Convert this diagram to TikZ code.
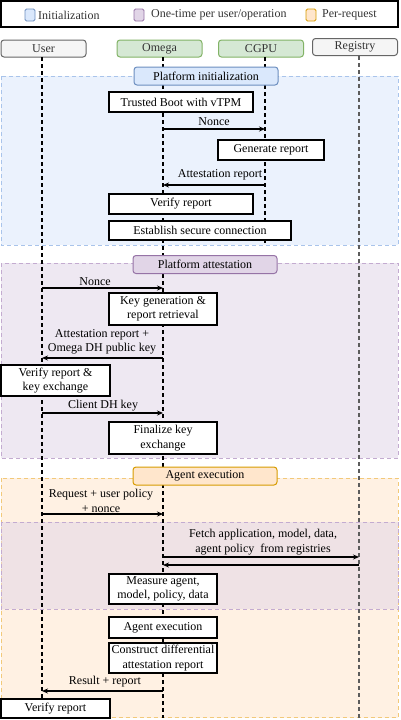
\documentclass[tikz,border=0pt]{standalone}
\usepackage{fontspec}
\setmainfont{Liberation Serif}
\usetikzlibrary{arrows.meta}
\definecolor{bluefill}{HTML}{DAE8FC}
\definecolor{bluedraw}{HTML}{6C8EBF}
\definecolor{bluedash}{HTML}{A9C4EB}
\definecolor{purpfill}{HTML}{E1D5E7}
\definecolor{purpdraw}{HTML}{9673A6}
\definecolor{purpdash}{HTML}{C3ABD0}
\definecolor{orfill}{HTML}{FFE6CC}
\definecolor{ordraw}{HTML}{D79B00}
\definecolor{ordash}{HTML}{F2C97A}
\definecolor{greyfill}{HTML}{F5F5F5}
\definecolor{greydraw}{HTML}{666666}
\definecolor{greentfill}{HTML}{D5E8D4}
\definecolor{greendraw}{HTML}{82B366}
\definecolor{txtgrey}{HTML}{333333}
\begin{document}
\begin{tikzpicture}[x=1pt,y=-1pt,
  font=\fontsize{12}{14.5}\selectfont,
  box/.style={draw=black, line width=1.3pt, fill=white, inner sep=0pt, align=center},
  hdr/.style={draw=#1, rounded corners=3pt, line width=1pt, inner sep=0pt, text=txtgrey, minimum width=85pt, minimum height=17pt},
  ttl/.style={rounded corners=3pt, line width=1pt, inner sep=0pt, minimum width=144pt, minimum height=18pt},
  life/.style={line width=1.2pt, dash pattern=on 4pt off 3pt},
  msg/.style={line width=1.1pt, -{Stealth[length=6pt,width=5pt]}},
  lbl/.style={inner sep=0pt, align=center},
  sect/.style={line width=0.8pt, dash pattern=on 4pt off 3pt},
  legsq/.style={rounded corners=1.5pt, line width=0.9pt, minimum width=10pt, minimum height=12pt, inner sep=0pt},
]
\useasboundingbox (0,0) rectangle (400,720);

% legend
\node[draw=black, line width=1.5pt, minimum width=397pt, minimum height=26pt, inner sep=0pt] (legend) at (199.5,14) {};
\node[legsq, draw=bluedraw, fill=bluefill] (lq1) at (30,15) {};
\node[anchor=west, inner sep=0pt, text=txtgrey] (lt1) at (38,15) {Initialization};
\node[legsq, draw=purpdraw, fill=purpfill] (lq2) at (139,15) {};
\node[anchor=west, inner sep=0pt, text=txtgrey] (lt2) at (151,15) {One-time per user/operation};
\node[legsq, draw=ordraw, fill=orfill] (lq3) at (311,15) {};
\node[anchor=west, inner sep=0pt, text=txtgrey] (lt3) at (322,15) {Per-request};

% section backgrounds
\path[sect, fill=bluefill!55, draw=bluedash] (1,76) rectangle (398,245);
\path[sect, fill=purpfill!55, draw=purpdash] (1,263) rectangle (398,458);
\path[sect, fill=orfill!55, draw=ordash] (1,478) rectangle (398,717.5);
\path[sect, fill=purpfill, fill opacity=0.5, draw=purpdash] (1,522) rectangle (398,609);

% headers
\node[hdr=greydraw, fill=greyfill] (user) at (43.5,48.5) {User};
\node[hdr=greendraw, fill=greentfill] (omega) at (159.5,48.5) {Omega};
\node[hdr=greendraw, fill=greentfill] (cgpu) at (261,48.5) {CGPU};
\node[hdr=greydraw, fill=greyfill] (registry) at (355,47) {Registry};

% lifelines
\coordinate (uT) at (42,57);   \coordinate (uB) at (42,718);
\coordinate (oT) at (163,57);  \coordinate (oB) at (163,718);
\coordinate (cT) at (265,57);  \coordinate (cB) at (265,245);
\coordinate (rT) at (359,56);  \coordinate (rB) at (359,718);
\draw[life] (uT) -- (uB);
\draw[life] (oT) -- (oB);
\draw[life] (cT) -- (cB);
\draw[life, draw=greydraw!90!black] (rT) -- (rB);

% section titles
\node[ttl, draw=bluedraw, fill=bluefill] (t1) at (206,76) {Platform initialization};
\node[ttl, draw=purpdraw, fill=purpfill] (t2) at (205,264.5) {Platform attestation};
\node[ttl, draw=ordraw, fill=orfill] (t3) at (205,476) {Agent execution};

% section 1
\node[box, minimum width=144pt, minimum height=20pt] (tb) at (181,102) {Trusted Boot with vTPM};
\draw[msg] (oT |- 0,129) -- (cT |- 0,129);
\node[lbl] (l1) at (214,122) {Nonce};
\node[box, minimum width=106pt, minimum height=20pt] (gen) at (271,150) {Generate report};
\draw[msg] (cT |- 0,185) -- (oT |- 0,185);
\node[lbl] (l2) at (220,175) {Attestation report};
\node[box, minimum width=144pt, minimum height=20pt] (ver1) at (181,204) {Verify report};
\node[box, minimum width=182pt, minimum height=19pt] (est) at (200,230.5) {Establish secure connection};

% section 2
\draw[msg] (uT |- 0,288) -- (oT |- 0,288);
\node[lbl] (l3) at (95,282) {Nonce};
\node[box, minimum width=108pt, minimum height=32pt] (keygen) at (163,309) {Key generation \&\\report retrieval};
\draw[msg] (oT |- 0,358) -- (uT |- 0,358);
\node[lbl] (l4) at (102,342) {Attestation report +\\Omega DH public key};
\node[box, minimum width=109pt, minimum height=31pt] (verkx) at (55.5,380.5) {Verify report \&\\key exchange};
\draw[msg] (uT |- 0,413) -- (oT |- 0,413);
\node[lbl] (l5) at (103,406) {Client DH key};
\node[box, minimum width=108pt, minimum height=32pt] (fin) at (163,438) {Finalize key\\exchange};

% section 3
\draw[msg] (uT |- 0,514) -- (oT |- 0,514);
\node[lbl] (l6) at (101,501) {Request + user policy\\+ nonce};
\draw[msg] (oT |- 0,557) -- (rT |- 0,557);
\draw[msg] (rT |- 0,565) -- (oT |- 0,565);
\node[lbl] (l7) at (263,542) {Fetch application, model, data,\\agent policy\ \ from registries};
\node[box, minimum width=108pt, minimum height=30pt] (meas) at (163,589) {Measure agent,\\model, policy, data};
\node[box, minimum width=108pt, minimum height=21pt] (agex) at (163,627.5) {Agent execution};
\node[box, minimum width=108pt, minimum height=30pt] (cons) at (163,658) {Construct differential\\attestation report};
\draw[msg] (oT |- 0,691) -- (uT |- 0,691);
\node[lbl] (l8) at (105,682) {Result + report};
\node[box, minimum width=109pt, minimum height=19pt] (ver3) at (55.5,708.5) {Verify report};
\end{tikzpicture}
\end{document}
